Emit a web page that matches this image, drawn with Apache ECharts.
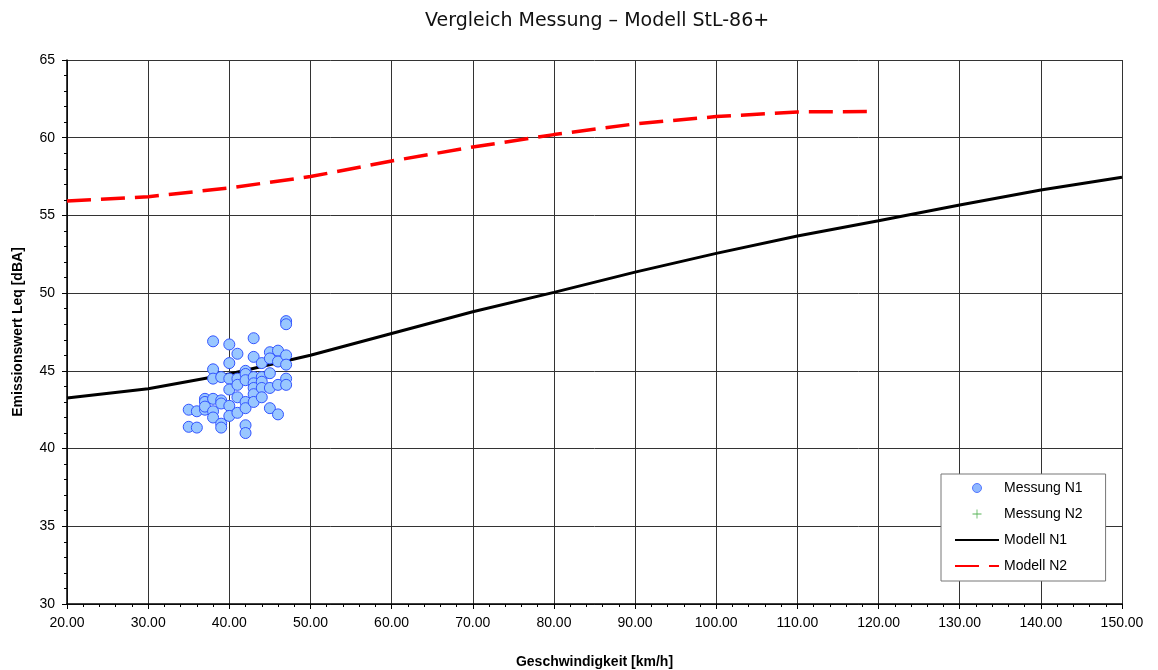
<!DOCTYPE html>
<html>
<head>
<meta charset="utf-8">
<script src="https://cdn.jsdelivr.net/npm/echarts@6/dist/echarts.min.js"></script>
<style>
    html, body { margin: 0; padding: 0; background: #fff; }
    #chart { width: 1158px; height: 670px; }
</style>
</head>
<body>
<div id="chart"></div>
<script>
    // Messung N1: Geschwindigkeit / Pegel
    let messSpeed = [35, 35, 36, 36, 37, 37, 37, 37, 38, 38, 38, 38, 38, 38,
        39, 39, 39, 39, 39, 40, 40, 40, 40, 40, 40, 41, 41, 41, 41, 41,
        42, 42, 42, 42, 42, 42, 42, 43, 43, 43, 43, 43, 43, 43,
        44, 44, 44, 44, 44, 45, 45, 45, 45, 45, 46, 46, 46, 46,
        47, 47, 47, 47, 47, 47]
    let messLevel = [42.5, 41.4, 42.4, 41.35, 43.2, 43.0, 42.5, 42.7, 46.9, 45.1, 44.5, 43.2, 42.4, 42.0,
        44.6, 43.1, 42.9, 41.6, 41.35, 46.7, 45.5, 44.5, 43.8, 42.75, 42.1, 46.1, 44.5, 44.1, 43.3, 42.3,
        45.0, 44.8, 44.4, 43.0, 42.6, 41.5, 41.0, 47.1, 45.9, 44.6, 44.2, 43.9, 43.5, 43.0,
        45.5, 44.6, 44.3, 43.9, 43.3, 46.2, 45.8, 44.85, 43.9, 42.6, 46.3, 45.6, 44.1, 42.2,
        48.2, 48.0, 46.0, 45.4, 44.5, 44.1]

    // Modell-Kurven
    let modellSpeed = [20, 30, 40, 50, 60, 70, 80, 90, 100, 110, 120, 130, 140, 150]
    let modellN1 = [43.25, 43.85, 44.8, 46.0, 47.4, 48.8, 50.05, 51.35, 52.56, 53.68, 54.66, 55.67, 56.64, 57.45]
    let modellN2Speed = [20, 30, 40, 50, 60, 70, 80, 90, 100, 110, 119]
    let modellN2 = [55.93, 56.2, 56.77, 57.5, 58.5, 59.4, 60.2, 60.89, 61.36, 61.66, 61.68]

    let plusIcon = 'path://M5,0 L6,0 L6,5 L11,5 L11,6 L6,6 L6,11 L5,11 L5,6 L0,6 L0,5 L5,5 Z'

    let myChart = echarts.init(document.getElementById('chart'))

    let pairs = function (xs, ys) {
        let out = []
        for (let i = 0; i < xs.length; i++) {
            out.push([xs[i], ys[i]])
        }
        return out
    }

    let axisFont = {
        color: '#000',
        fontFamily: 'Liberation Sans',
        fontSize: 14
    }

    let option = {
        animation: false,
        backgroundColor: '#fff',
        title: {
            text: 'Vergleich Messung – Modell StL-86+',
            left: 420,
            top: 7,
            textStyle: {
                color: '#111',
                fontFamily: 'DejaVu Sans',
                fontWeight: 'normal',
                fontSize: 19
            }
        },
        grid: {
            left: 67,
            right: 36,
            top: 60,
            bottom: 66,
            outerBoundsMode: 'none'
        },
        legend: {
            orient: 'vertical',
            left: 941,
            top: 474,
            padding: [7, 23, 8, 13],
            itemWidth: 44,
            itemHeight: 9,
            itemGap: 12,
            backgroundColor: '#fff',
            borderColor: '#777',
            borderWidth: 1,
            textStyle: {
                color: '#000',
                fontFamily: 'Liberation Sans',
                fontSize: 14
            },
            data: [
                { name: 'Messung N1', icon: 'circle', itemStyle: { color: '#8fb8ff', borderColor: '#5577ff', borderWidth: 1 } },
                { name: 'Messung N2', icon: plusIcon },
                { name: 'Modell N1', itemStyle: { opacity: 0 } },
                { name: 'Modell N2', itemStyle: { opacity: 0 } }
            ]
        },
        xAxis: {
            type: 'value',
            min: 20,
            max: 150,
            interval: 10,
            name: 'Geschwindigkeit [km/h]',
            nameLocation: 'middle',
            nameGap: 51,
            nameTextStyle: {
                color: '#000',
                fontFamily: 'Liberation Sans',
                fontSize: 14,
                fontWeight: 'bold'
            },
            axisLine: { lineStyle: { color: '#000', width: 1.5 } },
            axisTick: { show: true, length: 5, lineStyle: { color: '#000' } },
            minorTick: { show: true, splitNumber: 5, length: 3, lineStyle: { color: '#000' } },
            splitLine: { show: true, lineStyle: { color: '#333', width: 1 } },
            axisLabel: Object.assign({
                margin: 12,
                formatter: function (v) { return v.toFixed(2) }
            }, axisFont)
        },
        yAxis: {
            type: 'value',
            min: 30,
            max: 65,
            interval: 5,
            name: 'Emissionswert Leq [dBA]',
            nameLocation: 'middle',
            nameGap: 42,
            nameTextStyle: {
                color: '#000',
                fontFamily: 'Liberation Sans',
                fontSize: 14,
                fontWeight: 'bold'
            },
            axisLine: { show: true, lineStyle: { color: '#000', width: 1.5 } },
            axisTick: { show: true, length: 5, lineStyle: { color: '#000' } },
            minorTick: { show: true, splitNumber: 5, length: 3, lineStyle: { color: '#000' } },
            splitLine: { show: true, lineStyle: { color: '#333', width: 1 } },
            axisLabel: Object.assign({ margin: 12 }, axisFont)
        },
        series: [
            {
                name: 'Modell N1',
                type: 'line',
                symbol: 'none',
                z: 2,
                lineStyle: { color: '#000', width: 3 },
                itemStyle: { color: '#000' },
                data: pairs(modellSpeed, modellN1)
            },
            {
                name: 'Modell N2',
                type: 'line',
                symbol: 'none',
                z: 2,
                lineStyle: { color: '#ff0000', width: 3.5, type: [24, 10] },
                itemStyle: { color: '#ff0000' },
                data: pairs(modellN2Speed, modellN2)
            },
            {
                name: 'Messung N1',
                type: 'scatter',
                symbol: 'circle',
                symbolSize: 11,
                z: 3,
                itemStyle: {
                    color: '#99c7ff',
                    borderColor: '#3355ff',
                    borderWidth: 1,
                    opacity: 1
                },
                data: pairs(messSpeed, messLevel)
            },
            {
                name: 'Messung N2',
                type: 'scatter',
                symbol: plusIcon,
                symbolSize: 9,
                itemStyle: { color: '#2ca02c' },
                data: []
            }
        ]
    }

    myChart.setOption(option)
</script>
</body>
</html>
